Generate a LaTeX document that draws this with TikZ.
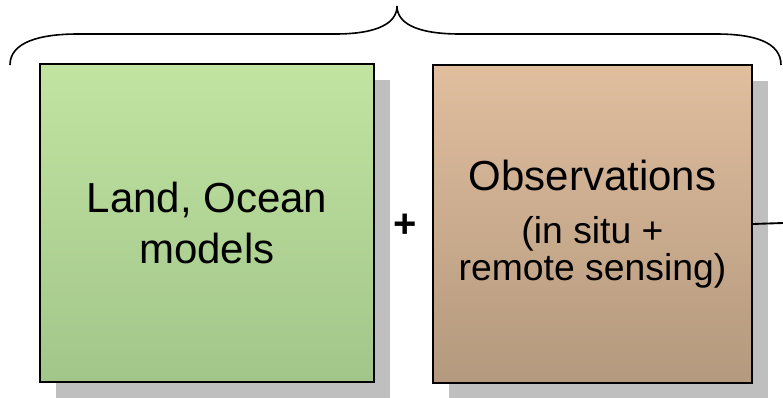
\documentclass[tikz,border=0pt]{standalone}
\usepackage{fontspec}
\setmainfont{Liberation Sans}
\usepackage{tikz}
\usetikzlibrary{shadows}
\definecolor{greentop}{RGB}{193,228,161}
\definecolor{greenbot}{RGB}{162,198,138}
\definecolor{browntop}{RGB}{224,190,158}
\definecolor{brownbot}{RGB}{180,153,126}

\begin{document}
\begin{tikzpicture}[
  x=0.75pt, y=-0.75pt,
  boxbase/.style={
    rectangle, draw=black, line width=1.4pt, align=center,
    inner sep=0pt, minimum height=238.5pt,
    drop shadow={shadow xshift=12pt, shadow yshift=-12pt, fill=black!25, opacity=1}
  },
  modelbox/.style={
    boxbase, minimum width=250.5pt, top color=greentop, bottom color=greenbot,
    font=\fontsize{31.5pt}{38.5pt}\selectfont
  },
  obsbox/.style={
    boxbase, minimum width=239pt, top color=browntop, bottom color=brownbot,
    font=\fontsize{28pt}{28pt}\selectfont
  },
  brace/.style={draw=black, line width=1.2pt}
]
\useasboundingbox (0,0) rectangle (783,397);

\node[modelbox] (models) at (207,223) {Land, Ocean\\ models};

\node[obsbox] (obs) at (592.5,224) {%
  {\fontsize{31.5pt}{38pt}\selectfont Observations}\\[12pt]
  (in situ +\\
  remote sensing)};

\node[font=\bfseries\fontsize{30pt}{36pt}\selectfont] (plus) at (405,226) {+};

% brace over both boxes
\path[brace] (10,65) .. controls (10,42) and (40,34) .. (78,34)
  -- (335,34) .. controls (380,34) and (397,22) .. (397,6)
  .. controls (397,22) and (414,34) .. (460,34)
  -- (716,34) .. controls (754,34) and (781,42) .. (781,65);

\coordinate (out) at (783,223);
\draw[line width=1.4pt] (obs.east) -- (out);

\end{tikzpicture}
\end{document}
